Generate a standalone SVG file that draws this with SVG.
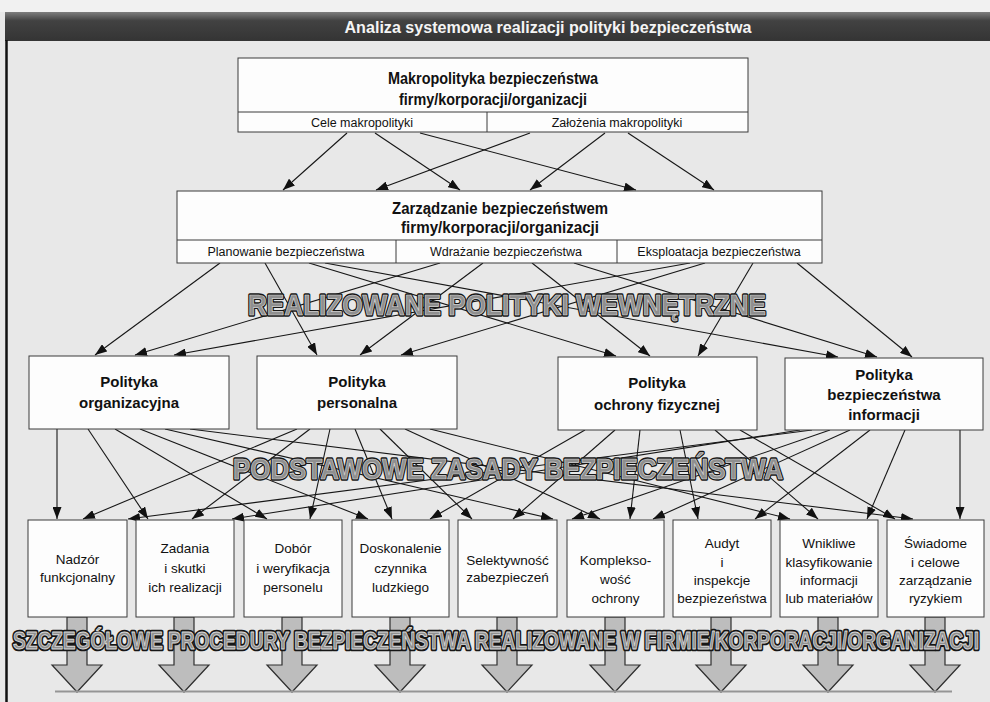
<svg xmlns="http://www.w3.org/2000/svg" width="990" height="702" viewBox="0 0 990 702">
  <defs>
    <linearGradient id="barGrad" x1="0" y1="0" x2="0" y2="1">
      <stop offset="0" stop-color="#7e7e7e"/>
      <stop offset="0.3" stop-color="#424242"/>
      <stop offset="1" stop-color="#343434"/>
    </linearGradient>
    <marker id="ah" viewBox="0 0 12 9" markerWidth="12" markerHeight="9" refX="12" refY="4.5" orient="auto" markerUnits="userSpaceOnUse">
      <path d="M0,0 L12,4.5 L0,9 z" fill="#111"/>
    </marker>
    <style>
      .box { fill: #fdfdfd; stroke: #3a3a3a; stroke-width: 1; }
      .div { stroke: #3a3a3a; stroke-width: 1; fill: none; }
      .head { font-family: "Liberation Sans", Arial, sans-serif; font-weight: bold; font-size: 17px; fill: #111; text-anchor: middle; }
      .sub { font-family: "Liberation Sans", Arial, sans-serif; font-size: 12.5px; fill: #111; text-anchor: middle; }
      .pol { font-family: "Liberation Sans", Arial, sans-serif; font-weight: bold; font-size: 15px; fill: #111; text-anchor: middle; }
      .pr { font-family: "Liberation Sans", Arial, sans-serif; font-size: 13.5px; fill: #111; text-anchor: middle; }
      .title { font-family: "Liberation Sans", Arial, sans-serif; font-weight: bold; font-size: 17px; fill: #f4f4f4; text-anchor: middle; }
      .ban-out { font-family: "Liberation Sans", Arial, sans-serif; font-weight: bold; fill: none; stroke: #161616; stroke-width: 3.4; stroke-linejoin: round; text-anchor: middle; }
      .ban-in { font-family: "Liberation Sans", Arial, sans-serif; font-weight: bold; fill: #8f8f8f; stroke: #d9d9d9; stroke-width: 0.7; stroke-linejoin: round; text-anchor: middle; }
      .ban-s-out { font-family: "Liberation Sans", Arial, sans-serif; font-weight: bold; font-size: 13px; fill: none; stroke: #161616; stroke-width: 2.5; stroke-linejoin: round; text-anchor: middle; }
      .ban-s-in { font-family: "Liberation Sans", Arial, sans-serif; font-weight: bold; font-size: 13px; fill: #8f8f8f; stroke: #d9d9d9; stroke-width: 0.5; stroke-linejoin: round; text-anchor: middle; }
      .conn path { fill: none; stroke: #161616; stroke-width: 1.1; marker-end: url(#ah); }
      .block { fill: #bdbdbd; stroke: #2e2e2e; stroke-width: 1.2; stroke-linejoin: miter; }
    </style>
  </defs>

  <!-- page -->
  <rect x="0" y="0" width="990" height="702" fill="#e8e8e8"/>
  <rect x="0" y="0" width="990" height="12" fill="#f1f1f1"/>

  <!-- title bar and frame -->
  <rect x="5" y="12" width="985" height="29" fill="url(#barGrad)"/>
  <text class="title" x="548" y="33" textLength="407" lengthAdjust="spacingAndGlyphs">Analiza systemowa realizacji polityki bezpieczeństwa</text>
  <line x1="6.5" y1="40" x2="6.5" y2="702" stroke="#111" stroke-width="2.5"/>

  <!-- connectors -->
  <g id="connectors" class="conn">
    <!-- macro policy -> security management -->
    <path d="M347,133 L283,190"/>
    <path d="M375,133 L460,190"/>
    <path d="M420,133 L636,190"/>
    <path d="M530,133 L376,190"/>
    <path d="M605,133 L530,190"/>
    <path d="M628,133 L714,190"/>
    <!-- security management -> internal policies -->
    <path d="M220,263 L95,355"/>
    <path d="M265,263 L317,355"/>
    <path d="M309,263 L616,356"/>
    <path d="M325,263 L838,357"/>
    <path d="M440,263 L135,355"/>
    <path d="M483,263 L360,355"/>
    <path d="M532,263 L650,356"/>
    <path d="M574,263 L877,357"/>
    <path d="M690,263 L174,355"/>
    <path d="M705,263 L401,355"/>
    <path d="M753,263 L698,356"/>
    <path d="M797,263 L912,357"/>
    <!-- internal policies -> basic principles -->
    <path d="M57,429 L57,519"/>
    <path d="M88,429 L148,519"/>
    <path d="M115,429 L267,519"/>
    <path d="M140,429 L368,519"/>
    <path d="M165,429 L553,519"/>
    <path d="M190,429 L913,519"/>
    <path d="M297,429 L83,519"/>
    <path d="M310,429 L192,519"/>
    <path d="M330,429 L310,519"/>
    <path d="M355,429 L392,519"/>
    <path d="M380,429 L472,519"/>
    <path d="M405,429 L600,519"/>
    <path d="M430,429 L790,519"/>
    <path d="M585,430 L430,519"/>
    <path d="M615,430 L513,519"/>
    <path d="M640,430 L630,519"/>
    <path d="M680,430 L698,519"/>
    <path d="M715,430 L818,519"/>
    <path d="M740,430 L895,519"/>
    <path d="M800,430 L232,519"/>
    <path d="M812,430 L128,519"/>
    <path d="M830,430 L572,519"/>
    <path d="M850,430 L653,519"/>
    <path d="M870,430 L755,519"/>
    <path d="M905,430 L867,519"/>
    <path d="M960,430 L960,519"/>
  </g>

  <!-- level 1 -->
  <g id="makropolityka">
    <rect class="box" x="238" y="58" width="510" height="74"/>
    <line class="div" x1="238" y1="112" x2="748" y2="112"/>
    <line class="div" x1="487" y1="112" x2="487" y2="132"/>
    <text class="head" x="493" y="84" textLength="210" lengthAdjust="spacingAndGlyphs">Makropolityka bezpieczeństwa</text>
    <text class="head" x="493" y="105" textLength="188" lengthAdjust="spacingAndGlyphs">firmy/korporacji/organizacji</text>
    <text class="sub" x="362" y="127">Cele makropolityki</text>
    <text class="sub" x="617" y="127">Założenia makropolityki</text>
  </g>

  <!-- level 2 -->
  <g id="zarzadzanie">
    <rect class="box" x="177" y="191" width="645" height="72"/>
    <line class="div" x1="177" y1="240" x2="822" y2="240"/>
    <line class="div" x1="396" y1="240" x2="396" y2="263"/>
    <line class="div" x1="617" y1="240" x2="617" y2="263"/>
    <text class="head" x="500" y="214" textLength="216" lengthAdjust="spacingAndGlyphs">Zarządzanie bezpieczeństwem</text>
    <text class="head" x="500" y="233" textLength="198" lengthAdjust="spacingAndGlyphs">firmy/korporacji/organizacji</text>
    <text class="sub" x="286" y="256">Planowanie bezpieczeństwa</text>
    <text class="sub" x="506" y="256">Wdrażanie bezpieczeństwa</text>
    <text class="sub" x="719" y="256">Eksploatacja bezpieczeństwa</text>
  </g>

  <!-- banner: internal policies -->
  <g id="banner-polityki">
    <text class="ban-out" x="507" y="315" font-size="29" textLength="518" lengthAdjust="spacingAndGlyphs">REALIZOWANE POLITYKI WEWNĘTRZNE</text>
    <text class="ban-in" x="507" y="315" font-size="29" textLength="518" lengthAdjust="spacingAndGlyphs">REALIZOWANE POLITYKI WEWNĘTRZNE</text>
  </g>

  <!-- level 3: policies -->
  <g id="pol-organizacyjna">
    <rect class="box" x="29" y="356" width="200" height="73"/>
    <text class="pol" x="129" y="387">Polityka</text>
    <text class="pol" x="129" y="408">organizacyjna</text>
  </g>
  <g id="pol-personalna">
    <rect class="box" x="257" y="356" width="200" height="73"/>
    <text class="pol" x="357" y="387">Polityka</text>
    <text class="pol" x="357" y="408">personalna</text>
  </g>
  <g id="pol-fizyczna">
    <rect class="box" x="558" y="357" width="199" height="73"/>
    <text class="pol" x="657" y="388">Polityka</text>
    <text class="pol" x="657" y="410">ochrony fizycznej</text>
  </g>
  <g id="pol-informacji">
    <rect class="box" x="785" y="358" width="198" height="72"/>
    <text class="pol" x="884" y="380">Polityka</text>
    <text class="pol" x="884" y="400">bezpieczeństwa</text>
    <text class="pol" x="884" y="420">informacji</text>
  </g>

  <!-- banner: basic principles -->
  <g id="banner-zasady">
    <text class="ban-out" x="508" y="479" font-size="29" textLength="550" lengthAdjust="spacingAndGlyphs">PODSTAWOWE ZASADY BEZPIECZEŃSTWA</text>
    <text class="ban-in" x="508" y="479" font-size="29" textLength="550" lengthAdjust="spacingAndGlyphs">PODSTAWOWE ZASADY BEZPIECZEŃSTWA</text>
  </g>

  <!-- procedure arrows -->
  <g id="procedury-strzalki">
    <path class="block" d="M67,617 V665 H52 L77,692 L102,665 H87 V617 Z"/>
    <path class="block" d="M174,617 V665 H159 L184,692 L209,665 H194 V617 Z"/>
    <path class="block" d="M282,617 V665 H267 L292,692 L317,665 H302 V617 Z"/>
    <path class="block" d="M390,617 V665 H375 L400,692 L425,665 H410 V617 Z"/>
    <path class="block" d="M497,617 V665 H482 L507,692 L532,665 H517 V617 Z"/>
    <path class="block" d="M605,617 V665 H590 L615,692 L640,665 H625 V617 Z"/>
    <path class="block" d="M711,617 V665 H696 L721,692 L746,665 H731 V617 Z"/>
    <path class="block" d="M818,617 V665 H803 L828,692 L853,665 H838 V617 Z"/>
    <path class="block" d="M925,617 V665 H910 L935,692 L960,665 H945 V617 Z"/>
    <line x1="55" y1="691.5" x2="952" y2="691.5" stroke="#959595" stroke-width="2"/>
  </g>

  <!-- level 4: basic principles -->
  <g id="z-nadzor">
    <rect class="box" x="28" y="520" width="99" height="97"/>
    <text class="pr" x="77.5" y="564">Nadzór</text>
    <text class="pr" x="77.5" y="582">funkcjonalny</text>
  </g>
  <g id="z-zadania">
    <rect class="box" x="136" y="520" width="98" height="97"/>
    <text class="pr" x="185" y="553">Zadania</text>
    <text class="pr" x="185" y="573">i skutki</text>
    <text class="pr" x="185" y="592">ich realizacji</text>
  </g>
  <g id="z-dobor">
    <rect class="box" x="244" y="520" width="98" height="97"/>
    <text class="pr" x="293" y="553">Dobór</text>
    <text class="pr" x="293" y="573">i weryfikacja</text>
    <text class="pr" x="293" y="592">personelu</text>
  </g>
  <g id="z-doskonalenie">
    <rect class="box" x="352" y="520" width="97" height="97"/>
    <text class="pr" x="400.5" y="553">Doskonalenie</text>
    <text class="pr" x="400.5" y="573">czynnika</text>
    <text class="pr" x="400.5" y="592">ludzkiego</text>
  </g>
  <g id="z-selektywnosc">
    <rect class="box" x="458" y="520" width="99" height="97"/>
    <text class="pr" x="507.5" y="565">Selektywność</text>
    <text class="pr" x="507.5" y="582">zabezpieczeń</text>
  </g>
  <g id="z-kompleksowosc">
    <rect class="box" x="567" y="520" width="97" height="97"/>
    <text class="pr" x="615.5" y="565">Komplekso-</text>
    <text class="pr" x="615.5" y="584">wość</text>
    <text class="pr" x="615.5" y="603">ochrony</text>
  </g>
  <g id="z-audyt">
    <rect class="box" x="673" y="520" width="98" height="97"/>
    <text class="pr" x="722" y="548">Audyt</text>
    <text class="pr" x="722" y="567">i</text>
    <text class="pr" x="722" y="585">inspekcje</text>
    <text class="pr" x="722" y="603">bezpiezeństwa</text>
  </g>
  <g id="z-klasyfikowanie">
    <rect class="box" x="780" y="520" width="98" height="97"/>
    <text class="pr" x="829" y="548">Wnikliwe</text>
    <text class="pr" x="829" y="567">klasyfikowanie</text>
    <text class="pr" x="829" y="585">informacji</text>
    <text class="pr" x="829" y="603">lub materiałów</text>
  </g>
  <g id="z-ryzyko">
    <rect class="box" x="887" y="520" width="97" height="97"/>
    <text class="pr" x="935.5" y="548">Świadome</text>
    <text class="pr" x="935.5" y="567">i celowe</text>
    <text class="pr" x="935.5" y="585">zarządzanie</text>
    <text class="pr" x="935.5" y="603">ryzykiem</text>
  </g>

  <!-- banner: detailed procedures (small font stretched vertically) -->
  <g id="banner-procedury" transform="translate(496,649) scale(1,1.9)">
    <text class="ban-s-out" x="0" y="0" textLength="966" lengthAdjust="spacingAndGlyphs">SZCZEGÓŁOWE PROCEDURY BEZPIECZEŃSTWA REALIZOWANE W FIRMIE/KORPORACJI/ORGANIZACJI</text>
    <text class="ban-s-in" x="0" y="0" textLength="966" lengthAdjust="spacingAndGlyphs">SZCZEGÓŁOWE PROCEDURY BEZPIECZEŃSTWA REALIZOWANE W FIRMIE/KORPORACJI/ORGANIZACJI</text>
  </g>
</svg>
